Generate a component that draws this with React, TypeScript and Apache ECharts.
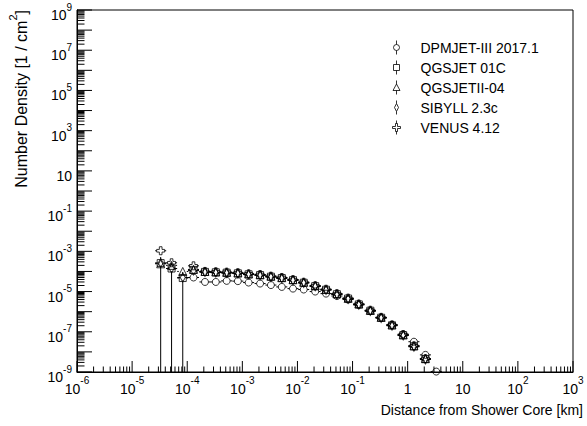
import React, { useEffect, useRef } from 'react';
import * as echarts from 'echarts';

const FONT = '"Liberation Sans", Arial, Helvetica, sans-serif';

// bin centres of distance from shower core [km]
const binCenters = [3.3e-5, 5.2e-5, 8.3e-5, 1.3e-4, 2.1e-4, 3.3e-4, 5.2e-4, 8.3e-4, 1.3e-3, 2.1e-3, 3.3e-3, 5.2e-3, 8.3e-3, 0.013, 0.021, 0.033, 0.052, 0.083, 0.13, 0.21, 0.33, 0.52, 0.83, 1.3, 2.1, 3.3];

const seriesNames = ['DPMJET-III 2017.1', 'QGSJET 01C', 'QGSJETII-04', 'SIBYLL 2.3c', 'VENUS 4.12'];

const dpmjet = [null, null, null, 5.0e-5, 3.0e-5, 3.0e-5, 3.4e-5, 3.3e-5, 2.8e-5, 2.5e-5, 2.1e-5, 1.7e-5, 1.4e-5, 1.26e-5, 1.0e-5, 7.9e-6, 6.0e-6, 4.0e-6, 2.2e-6, 1.07e-6, 5.0e-7, 2.2e-7, 7.6e-8, 3.2e-8, 7.1e-9, 1.05e-9];
const qgsjet = [2.6e-4, 1.4e-4, 4.7e-5, 1.2e-4, 9.5e-5, 9.1e-5, 8.7e-5, 8.1e-5, 7.2e-5, 6.6e-5, 5.5e-5, 4.7e-5, 3.7e-5, 2.75e-5, 1.86e-5, 1.23e-5, 7.4e-6, 4.5e-6, 2.3e-6, 1.12e-6, 5.0e-7, 2.1e-7, 6.8e-8, 1.9e-8, 4.4e-9, null];
const qgsjet2 = [2.4e-4, 2.0e-4, 1.0e-4, 1.26e-4, 1.0e-4, 9.4e-5, 9.0e-5, 8.4e-5, 7.5e-5, 6.8e-5, 5.8e-5, 4.9e-5, 3.9e-5, 2.9e-5, 1.95e-5, 1.28e-5, 7.7e-6, 4.6e-6, 2.4e-6, 1.15e-6, 5.2e-7, 2.2e-7, 7.0e-8, 2.0e-8, 4.6e-9, null];
const sibyll = [2.6e-4, 1.4e-4, 5.0e-5, 1.1e-4, 9.2e-5, 8.8e-5, 8.4e-5, 7.9e-5, 7.0e-5, 6.4e-5, 5.3e-5, 4.5e-5, 3.6e-5, 2.65e-5, 1.8e-5, 1.18e-5, 7.1e-6, 4.3e-6, 2.2e-6, 1.08e-6, 4.8e-7, 2.0e-7, 6.5e-8, 1.8e-8, 4.2e-9, null];
const venus = [1.07e-3, 2.7e-4, null, 1.9e-4, 1.0e-4, 9.6e-5, 9.2e-5, 8.6e-5, 7.6e-5, 7.0e-5, 5.8e-5, 5.0e-5, 3.9e-5, 2.9e-5, 1.95e-5, 1.3e-5, 7.8e-6, 4.7e-6, 2.4e-6, 1.17e-6, 5.2e-7, 2.2e-7, 7.1e-8, 2.0e-8, 4.6e-9, null];

// relative statistical errors
const statErr = [0.3, 0.3, 0.3, 0.2, 0.15, 0.12, 0.1, 0.08, 0.07, 0.06, 0.05, 0.05, 0.04, 0.04, 0.04, 0.04, 0.04, 0.05, 0.05, 0.06, 0.08, 0.1, 0.15, 0.2, 0.3, 0.5];
const qgsjetErr = [1.0, 1.0, 1.0, 0.2, 0.15, 0.12, 0.1, 0.08, 0.07, 0.06, 0.05, 0.05, 0.04, 0.04, 0.04, 0.04, 0.04, 0.05, 0.05, 0.06, 0.08, 0.1, 0.15, 0.2, 0.3, 0.5];

const xTickExps = [-6, -5, -4, -3, -2, -1, 0, 1, 2, 3];
const yTickExps = [9, 7, 5, 3, 1, -1, -3, -5, -7, -9];

const X_MIN = 1e-6, X_MAX = 1e3, Y_MIN = 1e-9, Y_MAX = 1e9;
const BIN_HALF = Math.pow(10, 0.1);

const rich = {
  b: { fontSize: 14, fontFamily: FONT, lineHeight: 20, verticalAlign: 'bottom', fill: '#000', color: '#000' },
  s: { fontSize: 10, fontFamily: FONT, lineHeight: 20, verticalAlign: 'top', fill: '#000', color: '#000' },
};
const titleRich = {
  b: { fontSize: 16, fontFamily: FONT, lineHeight: 22, verticalAlign: 'bottom', fill: '#000', color: '#000' },
  s: { fontSize: 11, fontFamily: FONT, lineHeight: 22, verticalAlign: 'top', fill: '#000', color: '#000' },
};

function powLabel(e: number): string {
  if (e === 0) return '{b|1}';
  if (e === 1) return '{b|10}';
  return `{b|10}{s|${e}}`;
}

const symbols = [
  { symbol: 'circle', size: 7, r: 3.5 },
  { symbol: 'rect', size: 7, r: 3.5 },
  { symbol: 'triangle', size: 8, r: 4 },
  { symbol: 'path://M2,0L4,4L2,8L0,4Z', size: [5, 9], r: 2.5 },
  { symbol: 'path://M3,0L6,0L6,3L9,3L9,6L6,6L6,9L3,9L3,6L0,6L0,3L3,3Z', size: 8, r: 4 },
];

const legendIcons = [
  'path://M5,0L5,4M5,10L5,14M2,7A3,3,0,1,1,8,7A3,3,0,1,1,2,7Z',
  'path://M5,0L5,4M5,10L5,14M2,4L8,4L8,10L2,10Z',
  'path://M5,0L5,3.5M5,10L5,14M5,3.5L8.5,10L1.5,10Z',
  'path://M5,0L5,3M5,11L5,14M5,3L7,7L5,11L3,7Z',
  'path://M5,0L5,3M5,11L5,14M4,3L6,3L6,6L9,6L9,8L6,8L6,11L4,11L4,8L1,8L1,6L4,6Z',
];

function lineEl(x1: number, y1: number, x2: number, y2: number) {
  return { type: 'line', shape: { x1, y1, x2, y2 }, style: { stroke: '#000', lineWidth: 1 } };
}

export default function App() {
  const ref = useRef<HTMLDivElement>(null);
  useEffect(() => {
    if (!ref.current) return;
    const chart = echarts.init(ref.current, null, { renderer: 'svg' });
    const allValues = [dpmjet, qgsjet, qgsjet2, sibyll, venus];
    const allErrs = [statErr, qgsjetErr, statErr, statErr, statErr];

    const errSeries = allValues.map((vals, si) => ({
      type: 'custom',
      name: seriesNames[si] + ' errors',
      coordinateSystem: 'cartesian2d',
      silent: true,
      z: 2,
      clip: false,
      data: binCenters
        .map((x, i) => (vals[i] == null ? null : [x, vals[i], allErrs[si][i]]))
        .filter((d) => d != null),
      renderItem: (params: any, api: any) => {
        const x = api.value(0), y = api.value(1), e = api.value(2);
        const R = symbols[si].r;
        const c = api.coord([x, y]);
        const l = api.coord([x / BIN_HALF, y]);
        const r = api.coord([x * BIN_HALF, y]);
        const lowV = y * (1 - e);
        const lo = api.coord([x, lowV > Y_MIN ? lowV : Y_MIN]);
        const hi = api.coord([x, y * (1 + e)]);
        const children: any[] = [];
        if (c[0] - R > l[0]) children.push(lineEl(l[0], c[1], c[0] - R, c[1]));
        if (r[0] > c[0] + R) children.push(lineEl(c[0] + R, c[1], r[0], c[1]));
        if (lo[1] > c[1] + R) children.push(lineEl(c[0], c[1] + R, c[0], lo[1]));
        if (hi[1] < c[1] - R) children.push(lineEl(c[0], c[1] - R, c[0], hi[1]));
        return { type: 'group', children };
      },
    }));

    const pointSeries = allValues.map((vals, si) => ({
      type: 'scatter',
      name: seriesNames[si],
      symbol: symbols[si].symbol,
      symbolSize: symbols[si].size,
      z: 3,
      itemStyle: { color: 'rgba(0,0,0,0)', borderColor: '#000', borderWidth: 1 },
      data: binCenters
        .map((x, i) => (vals[i] == null ? null : [x, vals[i]]))
        .filter((d) => d != null),
    }));

    // tick marks (ROOT style, inward, 2..9 minor ticks)
    const xTickData: number[][] = [];
    for (let d = -6; d < 3; d++) for (let m = 1; m <= 9; m++) xTickData.push([m * Math.pow(10, d), Y_MIN, m === 1 ? 1 : 0]);
    xTickData.push([X_MAX, Y_MIN, 1]);
    const yTickData: number[][] = [];
    for (let d = -9; d < 9; d++) for (let m = 1; m <= 9; m++) yTickData.push([X_MIN, m * Math.pow(10, d), m === 1 ? 1 : 0]);
    yTickData.push([X_MIN, Y_MAX, 1]);

    const xTickSeries = {
      type: 'custom', coordinateSystem: 'cartesian2d', silent: true, clip: false, z: 5,
      data: xTickData,
      renderItem: (p: any, api: any) => {
        const c = api.coord([api.value(0), Y_MIN]);
        const len = api.value(2) ? 11 : 5.5;
        return lineEl(c[0], c[1], c[0], c[1] - len);
      },
    };
    const yTickSeries = {
      type: 'custom', coordinateSystem: 'cartesian2d', silent: true, clip: false, z: 5,
      data: yTickData,
      renderItem: (p: any, api: any) => {
        const c = api.coord([X_MIN, api.value(1)]);
        const len = api.value(2) ? 15 : 7.5;
        return lineEl(c[0], c[1], c[0] + len, c[1]);
      },
    };
    const xLabelSeries = {
      type: 'custom', coordinateSystem: 'cartesian2d', silent: true, clip: false, z: 5,
      data: xTickExps.map((e) => [Math.pow(10, e), Y_MIN, e]),
      renderItem: (p: any, api: any) => {
        const c = api.coord([api.value(0), Y_MIN]);
        return {
          type: 'text', x: c[0], y: c[1] + 3.5,
          style: { text: powLabel(api.value(2)), rich, align: 'center', verticalAlign: 'top', fill: '#000', fontFamily: FONT, fontSize: 14 },
        };
      },
    };
    const yLabelSeries = {
      type: 'custom', coordinateSystem: 'cartesian2d', silent: true, clip: false, z: 5,
      data: yTickExps.map((e) => [X_MIN, Math.pow(10, e), e]),
      renderItem: (p: any, api: any) => {
        const c = api.coord([X_MIN, api.value(1)]);
        return {
          type: 'text', x: c[0] - 5, y: c[1] + 2,
          style: { text: powLabel(api.value(2)), rich, align: 'right', verticalAlign: 'middle', fill: '#000', fontFamily: FONT, fontSize: 14 },
        };
      },
    };

    chart.setOption({
      animation: false,
      backgroundColor: '#fff',
      grid: { left: 77, top: 10, right: 14, bottom: 54, show: true, borderColor: '#000', borderWidth: 1, containLabel: false },
      xAxis: {
        type: 'log', logBase: 10, min: X_MIN, max: X_MAX,
        axisLine: { show: true, lineStyle: { color: '#000', width: 1 } },
        axisTick: { show: false }, axisLabel: { show: false }, splitLine: { show: false },
      },
      yAxis: {
        type: 'log', logBase: 10, min: Y_MIN, max: Y_MAX,
        axisLine: { show: true, lineStyle: { color: '#000', width: 1 } },
        axisTick: { show: false }, axisLabel: { show: false }, splitLine: { show: false },
      },
      legend: {
        orient: 'vertical', left: 392, top: 40, padding: 0, itemWidth: 10, itemHeight: 14, itemGap: 5,
        selectedMode: false,
        itemStyle: { color: 'rgba(0,0,0,0)', borderColor: '#000', borderWidth: 1 },
        textStyle: { fontSize: 14, fontFamily: FONT, color: '#000', padding: [0, 0, 0, 14], lineHeight: 14 },
        data: seriesNames.map((n, i) => ({ name: n, icon: legendIcons[i] })),
      },
      graphic: [
        {
          type: 'text', x: 583, y: 410,
          style: { text: 'Distance from Shower Core [km]', fontSize: 14, fontFamily: FONT, fill: '#000', align: 'right', verticalAlign: 'middle' },
        },
        {
          type: 'text', x: 18, y: 10, rotation: Math.PI / 2,
          style: {
            text: '{b|Number Density [1 / cm}{s|2}{b|]}', rich: titleRich,
            fontSize: 16, fontFamily: FONT, fill: '#000', align: 'right', verticalAlign: 'middle',
          },
        },
      ],
      series: [...errSeries, ...pointSeries, xTickSeries, yTickSeries, xLabelSeries, yLabelSeries],
    });
    return () => chart.dispose();
  }, []);
  return <div ref={ref} style={{ position: 'fixed', left: 0, top: 0, width: 587, height: 426, background: '#fff' }} />;
}
